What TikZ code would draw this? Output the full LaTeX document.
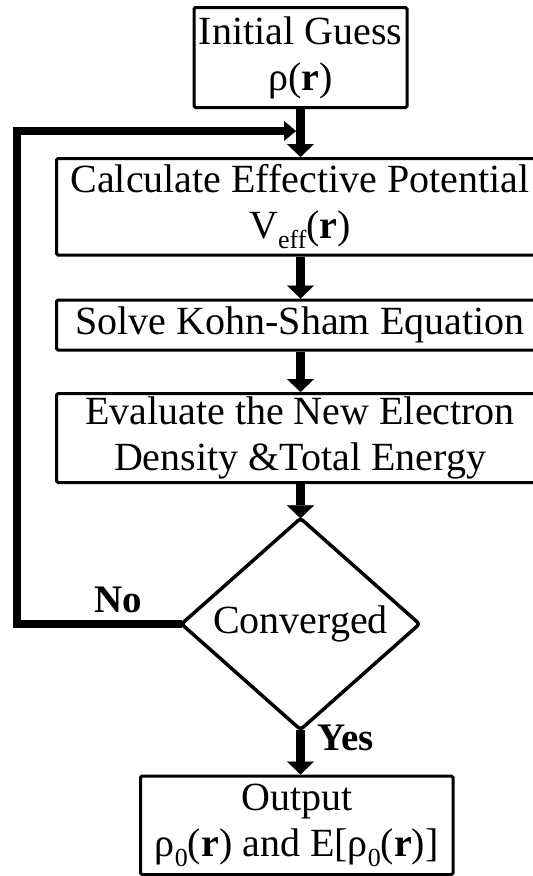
\documentclass[tikz,border=0pt]{standalone}
\usepackage{fontspec}
\setmainfont{Liberation Serif}
\usetikzlibrary{arrows.meta,shapes.geometric}
\newcommand\fbig{\fontsize{40pt}{46pt}\selectfont}
\newcommand\lowsub[1]{\raisebox{-10pt}{\fontsize{26pt}{26pt}\selectfont #1}}
\begin{document}
\begin{tikzpicture}[x=1pt,y=-1pt,
  stepbox/.style={draw, line width=3pt, rounded corners=1.5pt, inner sep=0pt,
    outer sep=1.5pt, align=center, font=\fbig},
  decision/.style={diamond, draw, line width=3.5pt, rounded corners=3pt, inner sep=0pt,
    outer sep=0pt, font=\fbig, minimum width=238pt, minimum height=182pt},
  flow/.style={line width=9pt, -{Triangle[width=27pt,length=13pt,line width=0.1pt]}},
  loopback/.style={line width=8.5pt, line join=miter,
    -{Triangle[width=20pt,length=12pt,line width=0.1pt]}},
  answer/.style={font=\fontsize{39pt}{44pt}\selectfont\bfseries, inner sep=0pt}
]
\path[use as bounding box] (0,0) rectangle (533,876);
\clip (0,0) rectangle (533,876);

% process steps
\node[stepbox, minimum width=213pt, minimum height=100pt] (init) at (300.5,57.5)
  {Initial Guess\\ρ(\textbf{r})};
\node[stepbox, minimum width=487pt, minimum height=96.5pt] (calc) at (300,206.75)
  {Calculate Effective Potential\\V\lowsub{eff}(\textbf{r})};
\node[stepbox, minimum width=487pt, minimum height=50pt] (solve) at (300,325)
  {Solve Kohn-Sham Equation};
\node[stepbox, minimum width=487pt, minimum height=89pt] (eval) at (300,438)
  {Evaluate the New Electron\\Density \&Total Energy};
\node[decision] (conv) at (300.5,624) {Converged};
\node[stepbox, minimum width=312.5pt, minimum height=98.5pt] (out) at (296.75,825.25)
  {Output\\ρ\lowsub{0}(\textbf{r}) and E[ρ\lowsub{0}(\textbf{r})]};

% loop back when not converged
\coordinate (fb) at (296,131);
\draw[loopback] (conv.west) -| (17,131) -- (fb);

% main flow
\draw[flow] (init.south) -- (init.south |- calc.north);
\draw[flow] (calc.south -| conv.north) -- (solve.north -| conv.north);
\draw[flow] (solve.south -| conv.north) -- (eval.north -| conv.north);
\draw[flow] (eval.south -| conv.north) -- (conv.north);
\draw[flow] (conv.south) -- (conv.south |- out.north);

% branch labels
\node[answer, anchor=base] (no) at (118,612) {No};
\node[answer, anchor=base west] (yes) at (317,750) {Yes};
\end{tikzpicture}
\end{document}
